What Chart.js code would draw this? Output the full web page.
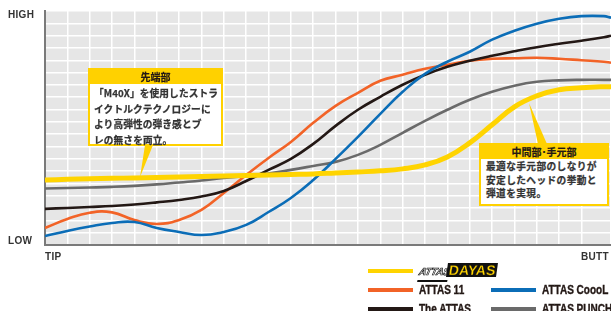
<!DOCTYPE html>
<html>
<head>
<meta charset="utf-8">
<script src="https://cdn.jsdelivr.net/npm/chart.js@4"></script>
<style>
  html, body { margin: 0; padding: 0; background: #fff; }
  body { width: 611px; height: 311px; overflow: hidden; position: relative; font-family: "Liberation Sans", Arial, sans-serif; }
  #wrap { position: absolute; left: 0; top: 0; width: 611px; height: 311px; }
  .axis-label { position: absolute; font-weight: bold; font-size: 10px; color: #333; letter-spacing: 0.3px; }
  .callout { position: absolute; border: 2px solid #FFD100; background: #fff; box-sizing: border-box; }
  .callout .head { background: #FFD100; color: #231815; font-family: "Noto Sans CJK JP", sans-serif; font-weight: bold; font-size: 10px; text-align: center; height: 14px; line-height: 14px; -webkit-text-stroke: 0.2px #231815; }
  .callout .body { font-family: "Noto Sans CJK JP", sans-serif; font-weight: bold; font-size: 9.7px; color: #333; white-space: nowrap; -webkit-text-stroke: 0.25px #333; }
  #legend { position: absolute; left: 0; top: 0; }
  .lg-item { position: absolute; height: 16px; }
  .lg-sw { position: absolute; left: 0; top: 6px; width: 45px; height: 4px; }
  .lg-tx { position: absolute; left: 51px; top: 0; font-family: "Liberation Sans", sans-serif; font-weight: bold; font-size: 12.5px; color: #231815; line-height: 16px; white-space: nowrap; transform: scaleX(0.8); transform-origin: left center; -webkit-text-stroke: 0.4px #231815; }
  .logo-a { display: inline-block; font-style: italic; font-weight: 900; font-size: 10px; color: #fff; -webkit-text-stroke: 0.7px #111; border-bottom: 2px solid #111; transform: skewX(-12deg); letter-spacing: -0.3px; }
  .logo-d { display: inline-block; font-weight: 900; font-size: 14px; color: #FFD400; background: #111; padding: 0 2px; margin-left: -2px; -webkit-text-stroke: 0.3px #111; transform: skewX(-8deg); line-height: 14px; }
</style>
</head>
<body>
<div id="wrap"><canvas id="c" width="611" height="311"></canvas></div>

<div class="axis-label" style="left:8px; top:9px;">HIGH</div>
<div class="axis-label" style="left:8px; top:235px;">LOW</div>
<div class="axis-label" style="left:45px; top:251px;">TIP</div>
<div class="axis-label" style="left:581px; top:251px;">BUTT</div>

<svg width="611" height="311" style="position:absolute;left:0;top:0;">
  <polygon points="145,145 153,145 140,177" fill="#FFD100"/>
  <polygon points="529,103 538,144 547,144" fill="#FFD100"/>
</svg>

<div class="callout" style="left:88px; top:68px; width:135px; height:78px;">
  <div class="head">先端部</div>
  <div class="body" style="padding:2px 0 0 4px; line-height:15.5px; letter-spacing:0.1px;">「M40X」を使用したストラ<br>イクトルクテクノロジーに<br>より高弾性の弾き感とブ<br>レの無さを両立。</div>
</div>

<div class="callout" style="left:479px; top:143px; width:130px; height:63px;">
  <div class="head">中間部･手元部</div>
  <div class="body" style="padding:1px 0 0 5px; line-height:13.5px; letter-spacing:0.4px;">最適な手元部のしなりが<br>安定したヘッドの挙動と<br>弾道を実現。</div>
</div>

<div id="legend"></div>

<script>
// position along the shaft, in grid columns (tip -> butt)
const shaftPos = [0, 1, 2, 3, 4, 5, 6, 7, 8, 9, 10, 11, 12, 13, 14, 15, 16, 17, 18, 19, 20, 21, 22, 23, 24, 25, 25.32];

// stiffness, in grid rows (LOW = 0, HIGH = 19)
const dayas   = [5.28, 5.33, 5.37, 5.41, 5.45, 5.49, 5.53, 5.57, 5.61, 5.65, 5.69, 5.73, 5.77, 5.85, 5.93, 6.02, 6.18, 6.50, 7.15, 8.29, 9.76, 11.22, 12.11, 12.60, 12.76, 12.85, 12.85];
const attas11 = [1.38, 2.11, 2.62, 2.65, 2.03, 1.71, 2.03, 2.85, 4.23, 5.69, 7.07, 8.37, 9.92, 11.30, 12.36, 13.33, 13.82, 14.31, 14.63, 14.96, 15.12, 15.16, 15.20, 15.12, 15.00, 14.88, 14.80];
const cooool  = [0.73, 1.14, 1.50, 1.79, 1.87, 1.38, 1.06, 0.81, 1.06, 1.63, 2.68, 3.82, 5.28, 6.99, 8.78, 10.65, 12.44, 13.90, 14.88, 15.69, 16.67, 17.40, 17.97, 18.37, 18.58, 18.58, 18.46];
const theAttas = [2.93, 3.01, 3.09, 3.17, 3.29, 3.46, 3.66, 3.94, 4.39, 5.20, 6.10, 6.99, 8.21, 9.67, 10.98, 12.03, 13.01, 13.82, 14.47, 14.96, 15.37, 15.73, 16.06, 16.34, 16.59, 16.87, 16.99];
const punch   = [4.59, 4.63, 4.67, 4.72, 4.80, 4.92, 5.08, 5.24, 5.45, 5.61, 5.81, 6.10, 6.42, 6.75, 7.32, 8.13, 9.11, 10.08, 10.98, 11.79, 12.44, 12.93, 13.25, 13.37, 13.41, 13.41, 13.41];

const seriesNames = ['ATTAS DAYAS', 'ATTAS 11', 'ATTAS CoooL', 'The ATTAS', 'ATTAS PUNCH'];
const seriesColors = ['#FFD400', '#F26327', '#0B6DB7', '#231815', '#6A6A6A'];
const seriesData = [dayas, attas11, cooool, theAttas, punch];
const seriesWidth = [5, 2.6, 2.6, 2.6, 2.6];
const drawOrder = [0, 3, 1, 2, 4];

const plotBg = {
  id: 'plotBg',
  beforeDraw(chart) {
    const a = chart.chartArea;
    const ctx = chart.ctx;
    ctx.save();
    ctx.fillStyle = '#E6E6E6';
    ctx.fillRect(a.left, a.top, a.right - a.left, a.bottom - a.top);
    ctx.restore();
  }
};

const datasets = seriesNames.map((name, i) => ({
  label: name,
  data: shaftPos.map((x, j) => ({ x: x, y: seriesData[i][j] })),
  borderColor: seriesColors[i],
  borderWidth: seriesWidth[i],
  pointRadius: 0,
  tension: 0.45,
  fill: false,
  order: drawOrder[i]
}));

new Chart(document.getElementById('c'), {
  type: 'line',
  data: { datasets: datasets },
  options: {
    responsive: false,
    animation: false,
    layout: { padding: { left: 45, top: 11, right: 0, bottom: 66 } },
    plugins: { legend: { display: false }, tooltip: { enabled: false } },
    scales: {
      x: {
        type: 'linear', min: 0, max: 25.32,
        ticks: { display: false, stepSize: 1 },
        grid: { color: '#FFFFFF', lineWidth: 1.5, drawTicks: false },
        border: { display: true, color: '#7A7A7A', width: 2 }
      },
      y: {
        type: 'linear', min: 0, max: 19,
        ticks: { display: false, stepSize: 1 },
        grid: { color: '#FFFFFF', lineWidth: 1.5, drawTicks: false },
        border: { display: true, color: '#7A7A7A', width: 2 }
      }
    }
  },
  plugins: [plotBg]
});

// legend (two columns, first entry alone on top)
const legend = document.getElementById('legend');
const legendSpots = [[368, 263], [368, 282], [491, 282], [368, 301], [491, 301]];
seriesNames.forEach((name, i) => {
  const item = document.createElement('div');
  item.className = 'lg-item';
  item.style.left = legendSpots[i][0] + 'px';
  item.style.top = legendSpots[i][1] + 'px';
  const sw = document.createElement('div');
  sw.className = 'lg-sw';
  sw.style.background = seriesColors[i];
  item.appendChild(sw);
  const tx = document.createElement('div');
  tx.className = 'lg-tx';
  if (i === 0) {
    tx.innerHTML = '<span class="logo-a">ATTAS</span><span class="logo-d">DAYAS</span>';
    tx.style.transform = 'none';
    tx.style.webkitTextStroke = '0';
  } else {
    tx.textContent = name;
  }
  item.appendChild(tx);
  legend.appendChild(item);
});
</script>
</body>
</html>
